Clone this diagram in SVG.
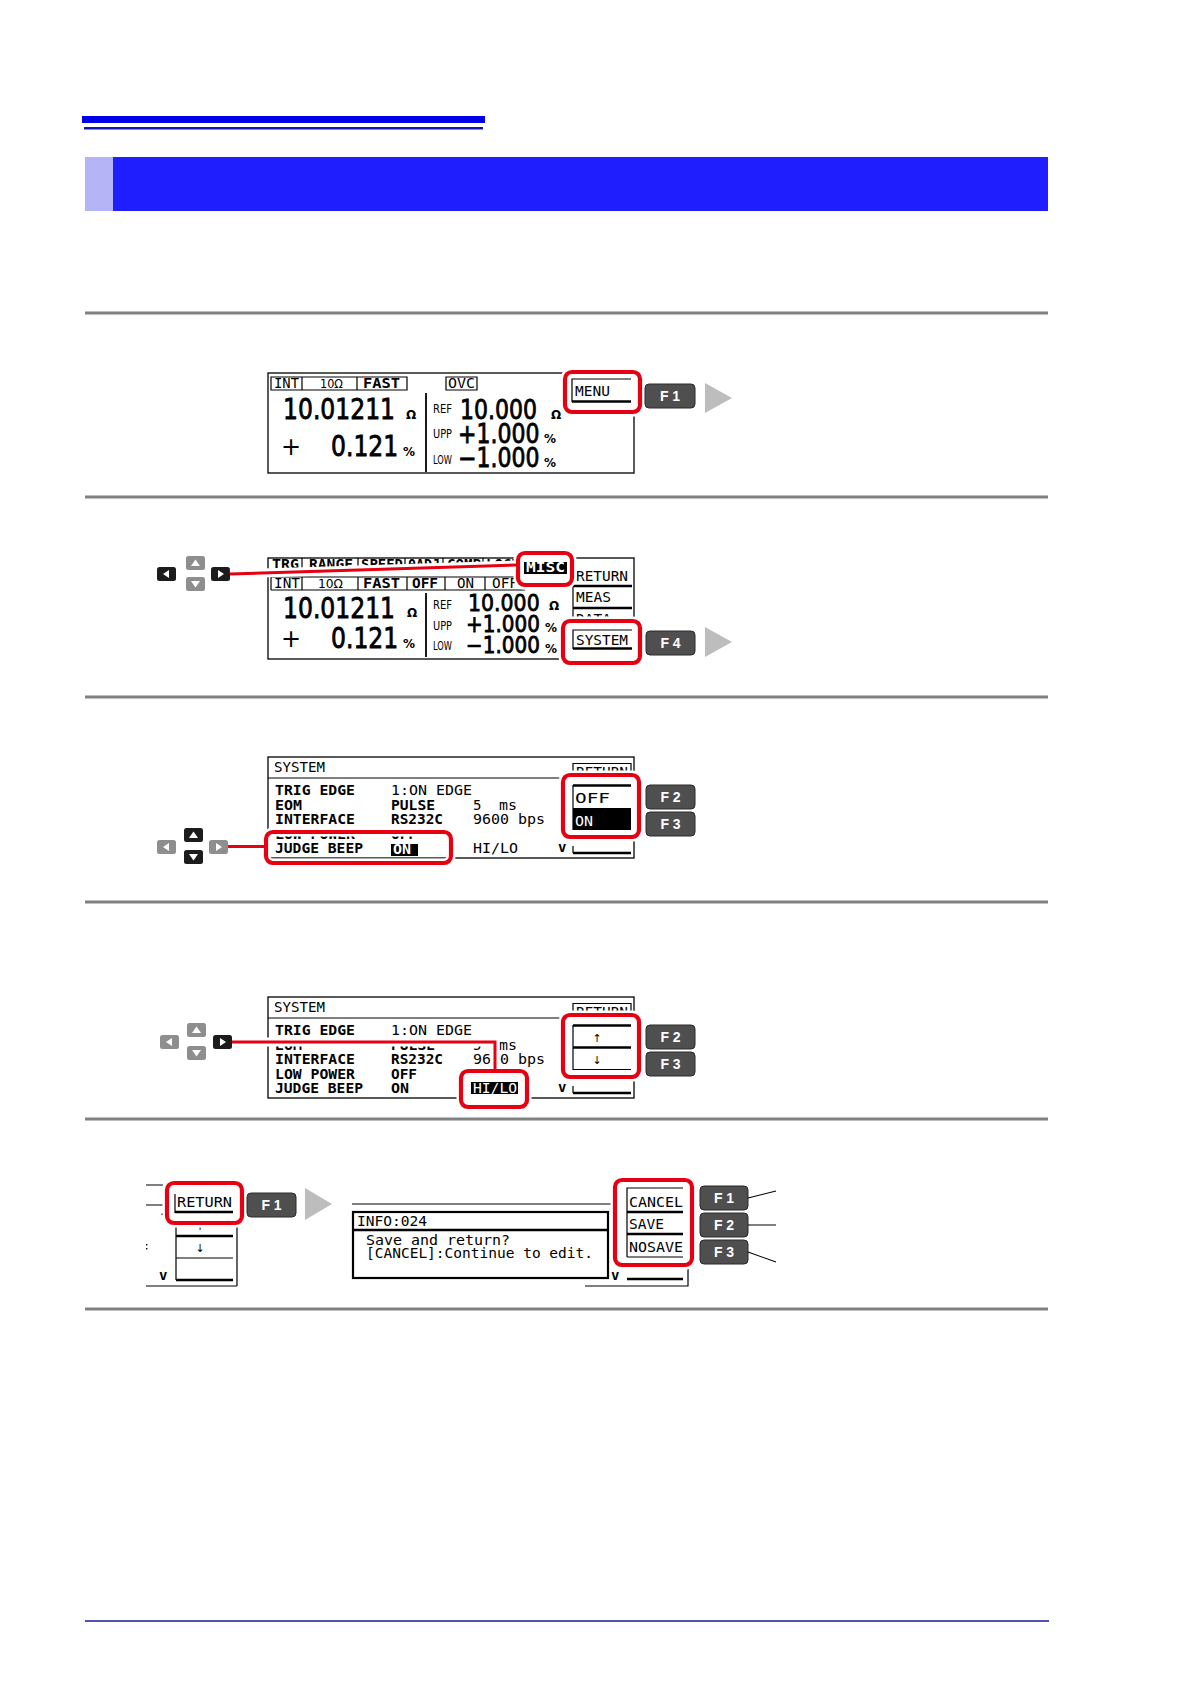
<svg xmlns="http://www.w3.org/2000/svg" width="1190" height="1684" viewBox="0 0 1190 1684">
<defs>
<style>
.sep{stroke:#808080;stroke-width:3}
.fr{fill:none;stroke:#000;stroke-width:1.3}
.ln{fill:none;stroke:#000;stroke-width:1.2}
.tk{fill:none;stroke:#000;stroke-width:2.4}
.hlw{fill:#fff;stroke:#fff;stroke-width:9}
.hlo{fill:none;stroke:#fff;stroke-width:9}
.hl{fill:none;stroke:#E60012;stroke-width:4.2}
.rl{fill:none;stroke:#E60012;stroke-width:3}
.rlh{fill:none;stroke:#fff;stroke-width:9}
.lead{fill:none;stroke:#000;stroke-width:1.1}
.fk{fill:#4f4f4f;stroke:#2a2a2a;stroke-width:1}
.fkt{fill:#fff;font-family:"Liberation Sans",Arial,sans-serif;font-weight:bold;font-size:14px;text-anchor:middle}
.kb{fill:#1c1c1c}
.kg{fill:#8e8e8e}
.nav{fill:#bdbdbd}
.m{font-family:"DejaVu Sans Mono","Liberation Mono",monospace;font-size:14px;fill:#000}
.b{font-weight:bold}
.d{font-family:"DejaVu Sans","Liberation Sans",sans-serif;fill:#000}
.big{font-family:"DejaVu Sans","Liberation Sans",sans-serif;fill:#000;stroke:#000;stroke-width:0.7}
.inv{fill:#fff}
</style>
<g id="kL"><rect width="19" height="14" rx="2.5"/><polygon points="6,7 12,3 12,11" fill="#fff"/></g>
<g id="kR"><rect width="19" height="14" rx="2.5"/><polygon points="13,7 7,3 7,11" fill="#fff"/></g>
<g id="kU"><rect width="19" height="14" rx="2.5"/><polygon points="9.5,3.5 14,10 5,10" fill="#fff"/></g>
<g id="kD"><rect width="19" height="14" rx="2.5"/><polygon points="9.5,10.5 14,4 5,4" fill="#fff"/></g>
</defs>
<rect width="1190" height="1684" fill="#fff"/>

<g id="header">
<rect x="82" y="116" width="403" height="7" fill="#0000E8"/>
<rect x="84" y="127" width="399" height="2.5" fill="#1212B8"/>
<rect x="85" y="157" width="963" height="54" fill="#1E1EFF"/>
<rect x="85" y="157" width="28" height="54" fill="#B4B4F6"/>
</g>

<g id="separators">
<line class="sep" x1="85" y1="313" x2="1048" y2="313"/>
<line class="sep" x1="85" y1="497" x2="1048" y2="497"/>
<line class="sep" x1="85" y1="697" x2="1048" y2="697"/>
<line class="sep" x1="85" y1="902" x2="1048" y2="902"/>
<line class="sep" x1="85" y1="1119" x2="1048" y2="1119"/>
<line class="sep" x1="85" y1="1309" x2="1048" y2="1309"/>
<line x1="85" y1="1621" x2="1049" y2="1621" stroke="#1a1a9a" stroke-width="1.6"/>
</g>

<!-- STEP 1 -->
<g id="screen1">
<rect class="fr" x="268" y="373" width="366" height="100"/>
<path class="ln" d="M271,377h136v13h-136z M302,377v13 M357,377v13 M446,377h31v13h-31z"/>
<text class="m" x="274" y="388" font-size="13" textLength="25" lengthAdjust="spacingAndGlyphs">INT</text>
<text class="d" x="320" y="388" font-size="12" textLength="23" lengthAdjust="spacingAndGlyphs">10Ω</text>
<text class="m b" x="363" y="388" font-size="13" textLength="37" lengthAdjust="spacingAndGlyphs">FAST</text>
<text class="m" x="448" y="388" font-size="13" textLength="27" lengthAdjust="spacingAndGlyphs">OVC</text>
<text class="big" x="283" y="419" font-size="23.5" transform="matrix(1,0,0,1.17,0,-71.23)">10.01211</text>
<text class="d b" x="406" y="419" font-size="12">Ω</text>
<text class="d" x="281" y="455" font-size="24">+</text>
<text class="big" x="331" y="456" font-size="23.5" transform="matrix(1,0,0,1.17,0,-77.52)">0.121</text>
<text class="d b" x="403" y="456" font-size="12">%</text>
<line x1="426" y1="393" x2="426" y2="472" stroke="#000" stroke-width="1.8"/>
<text class="d" x="433" y="413" font-size="13" textLength="19" lengthAdjust="spacingAndGlyphs">REF</text>
<text class="d" x="433" y="438" font-size="13" textLength="19" lengthAdjust="spacingAndGlyphs">UPP</text>
<text class="d" x="433" y="464" font-size="13" textLength="19" lengthAdjust="spacingAndGlyphs">LOW</text>
<text class="big" x="460" y="419" font-size="22" transform="matrix(1,0,0,1.17,0,-71.23)">10.000</text>
<text class="d b" x="551" y="419" font-size="12">Ω</text>
<text class="big" x="458" y="443" font-size="22" transform="matrix(1,0,0,1.17,0,-75.31)">+1.000</text>
<text class="d b" x="544" y="443" font-size="12">%</text>
<text class="big" x="458" y="467" font-size="22" transform="matrix(1,0,0,1.17,0,-79.39)">−1.000</text>
<text class="d b" x="544" y="467" font-size="12">%</text>
</g>
<g id="hl-menu">
<rect class="hlw" x="565" y="372" width="75" height="40" rx="7"/>
<rect class="hl" x="565" y="372" width="75" height="40" rx="7"/>
<path class="ln" d="M572,402V379H631"/>
<path class="tk" d="M572,401.5H631"/>
<text class="m" x="575" y="396" textLength="35" lengthAdjust="spacingAndGlyphs">MENU</text>
</g>
<g id="f1-step1"><rect class="fk" x="645" y="384" width="50" height="24" rx="4"/><text class="fkt" x="670" y="401">F 1</text></g>
<polygon id="next1" class="nav" points="705,383 732,398 705,413"/>

<!-- STEP 2 -->
<g id="keys2">
<use href="#kL" x="157" y="567" class="kb"/>
<use href="#kU" x="186" y="556" class="kg"/>
<use href="#kD" x="186" y="577" class="kg"/>
<use href="#kR" x="211" y="567" class="kb"/>
</g>
<g id="screen2">
<rect class="fr" x="268" y="558" width="366" height="101"/>
<path class="ln" d="M302,558v10 M358,558v10 M405,558v10 M443,558v10 M483,558v10"/>
<text class="m b" x="272" y="569" font-size="13" textLength="27" lengthAdjust="spacingAndGlyphs">TRG</text>
<text class="m b" x="309" y="569" font-size="13" textLength="44" lengthAdjust="spacingAndGlyphs">RANGE</text>
<text class="m b" x="361" y="569" font-size="13" textLength="42" lengthAdjust="spacingAndGlyphs">SPEED</text>
<text class="m b" x="408" y="569" font-size="13" textLength="32" lengthAdjust="spacingAndGlyphs">0ADJ</text>
<text class="m b" x="447" y="569" font-size="13" textLength="34" lengthAdjust="spacingAndGlyphs">COMP</text>
<text class="m b" x="486" y="569" font-size="13" textLength="34" lengthAdjust="spacingAndGlyphs">LOCK</text>
<path class="ln" d="M271,577H525 M271,590H525 M271,577v13 M302,577v13 M358,577v13 M407,577v13 M445,577v13 M485,577v13"/>
<text class="m" x="274" y="588" font-size="13" textLength="26" lengthAdjust="spacingAndGlyphs">INT</text>
<text class="d" x="318" y="588" font-size="12" textLength="25" lengthAdjust="spacingAndGlyphs">10Ω</text>
<text class="m b" x="363" y="588" font-size="13" textLength="37" lengthAdjust="spacingAndGlyphs">FAST</text>
<text class="m b" x="412" y="588" font-size="13" textLength="26" lengthAdjust="spacingAndGlyphs">OFF</text>
<text class="m" x="457" y="588" font-size="13" textLength="17" lengthAdjust="spacingAndGlyphs">ON</text>
<text class="m" x="492" y="588" font-size="13" textLength="26" lengthAdjust="spacingAndGlyphs">OFF</text>
<text class="big" x="283" y="618" font-size="23.5" transform="matrix(1,0,0,1.17,0,-105.06)">10.01211</text>
<text class="d b" x="407" y="617" font-size="12">Ω</text>
<text class="d" x="281" y="647" font-size="24">+</text>
<text class="big" x="331" y="648" font-size="23.5" transform="matrix(1,0,0,1.17,0,-110.16)">0.121</text>
<text class="d b" x="403" y="648" font-size="12">%</text>
<line x1="426" y1="593" x2="426" y2="657" stroke="#000" stroke-width="1.8"/>
<text class="d" x="433" y="609" font-size="13" textLength="19" lengthAdjust="spacingAndGlyphs">REF</text>
<text class="d" x="433" y="630" font-size="13" textLength="19" lengthAdjust="spacingAndGlyphs">UPP</text>
<text class="d" x="433" y="650" font-size="13" textLength="19" lengthAdjust="spacingAndGlyphs">LOW</text>
<text class="big" x="468" y="611" font-size="20.5" transform="matrix(1,0,0,1.12,0,-73.32)">10.000</text>
<text class="d b" x="549" y="610" font-size="12">Ω</text>
<text class="big" x="466" y="632" font-size="20" transform="matrix(1,0,0,1.12,0,-75.84)">+1.000</text>
<text class="d b" x="545" y="632" font-size="12">%</text>
<text class="big" x="466" y="653" font-size="20" transform="matrix(1,0,0,1.12,0,-78.36)">−1.000</text>
<text class="d b" x="545" y="653" font-size="12">%</text>
<path class="ln" d="M573,568V632"/>
<text class="m" x="576" y="581" textLength="52" lengthAdjust="spacingAndGlyphs">RETURN</text>
<path class="tk" d="M573,586H632"/>
<text class="m" x="576" y="602" textLength="35" lengthAdjust="spacingAndGlyphs">MEAS</text>
<path class="tk" d="M573,608H632"/>
<text class="m" x="576" y="624" textLength="35" lengthAdjust="spacingAndGlyphs">DATA</text>
</g>
<g id="hl-misc">
<rect class="hlw" x="518" y="553" width="54" height="32" rx="7"/>
<rect class="hl" x="518" y="553" width="54" height="32" rx="7"/>
<rect x="524" y="562" width="43" height="12" fill="#000"/>
<text class="m b inv" x="526" y="572" font-size="13" textLength="39" lengthAdjust="spacingAndGlyphs">MISC</text>
</g>
<g id="hl-system">
<rect class="hlw" x="563" y="621" width="77" height="42" rx="7"/>
<rect class="hl" x="563" y="621" width="77" height="42" rx="7"/>
<path class="ln" d="M573,649V630H632"/>
<path class="tk" d="M573,648.5H632"/>
<text class="m" x="576" y="645" textLength="52" lengthAdjust="spacingAndGlyphs">SYSTEM</text>
</g>
<g id="f4-step2"><rect class="fk" x="646" y="631" width="49" height="24" rx="4"/><text class="fkt" x="670.5" y="648">F 4</text></g>
<polygon id="next2" class="nav" points="705,627 732,642 705,657"/>

<!-- STEP 3 -->
<g id="keys3">
<use href="#kL" x="157" y="840" class="kg"/>
<use href="#kU" x="184" y="828" class="kb"/>
<use href="#kD" x="184" y="850" class="kb"/>
<use href="#kR" x="209" y="840" class="kg"/>
</g>
<g id="screen3">
<rect class="fr" x="268" y="757" width="366" height="101"/>
<text class="m" x="274" y="772" textLength="51" lengthAdjust="spacingAndGlyphs">SYSTEM</text>
<path class="ln" d="M268,778H562"/>
<path class="ln" d="M573,771V763.5H631V771"/>
<text class="m" x="576" y="777" textLength="52" lengthAdjust="spacingAndGlyphs">RETURN</text>
<text class="m b" x="275" y="795" textLength="80" lengthAdjust="spacingAndGlyphs">TRIG EDGE</text>
<text class="m" x="391" y="795" textLength="81" lengthAdjust="spacingAndGlyphs">1:ON EDGE</text>
<text class="m b" x="275" y="809.5" textLength="27" lengthAdjust="spacingAndGlyphs">EOM</text>
<text class="m b" x="391" y="809.5" textLength="44" lengthAdjust="spacingAndGlyphs">PULSE</text>
<text class="m" x="473" y="809.5">5</text>
<text class="m" x="499" y="809.5" textLength="18" lengthAdjust="spacingAndGlyphs">ms</text>
<text class="m b" x="275" y="824" textLength="80" lengthAdjust="spacingAndGlyphs">INTERFACE</text>
<text class="m b" x="391" y="824" textLength="52" lengthAdjust="spacingAndGlyphs">RS232C</text>
<text class="m" x="473" y="824" textLength="72" lengthAdjust="spacingAndGlyphs">9600 bps</text>
<text class="m b" x="275" y="838.5" textLength="80" lengthAdjust="spacingAndGlyphs">LOW POWER</text>
<text class="m b" x="391" y="838.5" textLength="26" lengthAdjust="spacingAndGlyphs">OFF</text>
<text class="m" x="473" y="853" textLength="45" lengthAdjust="spacingAndGlyphs">HI/LO</text>
<text class="m b" x="558" y="852" font-size="9">v</text>
<path class="ln" d="M573,846V853"/>
<path class="tk" d="M573,853H631"/>
</g>
<g id="hl-judge">
<rect class="hlo" x="266" y="832" width="185" height="31" rx="7"/>
<rect class="hl" x="266" y="832" width="185" height="31" rx="7"/>
<text class="m b" x="275" y="853" textLength="88" lengthAdjust="spacingAndGlyphs">JUDGE BEEP</text>
<rect x="391" y="844" width="27" height="12" fill="#000"/>
<text class="m b inv" x="393" y="854" textLength="18" lengthAdjust="spacingAndGlyphs">ON</text>
</g>
<g id="hl-offon">
<rect class="hlw" x="563" y="775" width="76" height="62" rx="7"/>
<rect class="hl" x="563" y="775" width="76" height="62" rx="7"/>
<path class="ln" d="M573,785V830"/>
<path class="tk" d="M573,785.5H631"/>
<text class="m" x="575" y="803" textLength="35" lengthAdjust="spacingAndGlyphs">OFF</text>
<rect x="573" y="808" width="58" height="22" fill="#000"/>
<text class="m inv" x="575" y="826" textLength="18" lengthAdjust="spacingAndGlyphs">ON</text>
</g>
<g id="f2-step3"><rect class="fk" x="646" y="785" width="49" height="24" rx="4"/><text class="fkt" x="670.5" y="802">F 2</text></g>
<g id="f3-step3"><rect class="fk" x="646" y="812" width="49" height="24" rx="4"/><text class="fkt" x="670.5" y="829">F 3</text></g>

<!-- STEP 4 -->
<g id="keys4">
<use href="#kL" x="160" y="1035" class="kg"/>
<use href="#kU" x="187" y="1023" class="kg"/>
<use href="#kD" x="187" y="1046" class="kg"/>
<use href="#kR" x="213" y="1035" class="kb"/>
</g>
<g id="screen4">
<rect class="fr" x="268" y="997" width="366" height="101"/>
<text class="m" x="274" y="1012" textLength="51" lengthAdjust="spacingAndGlyphs">SYSTEM</text>
<path class="ln" d="M268,1018H562"/>
<path class="ln" d="M573,1011V1003.5H631V1011"/>
<text class="m" x="576" y="1017" textLength="52" lengthAdjust="spacingAndGlyphs">RETURN</text>
<text class="m b" x="275" y="1035" textLength="80" lengthAdjust="spacingAndGlyphs">TRIG EDGE</text>
<text class="m" x="391" y="1035" textLength="81" lengthAdjust="spacingAndGlyphs">1:ON EDGE</text>
<text class="m b" x="275" y="1049.5" textLength="27" lengthAdjust="spacingAndGlyphs">EOM</text>
<text class="m b" x="391" y="1049.5" textLength="44" lengthAdjust="spacingAndGlyphs">PULSE</text>
<text class="m" x="473" y="1049.5">5</text>
<text class="m" x="499" y="1049.5" textLength="18" lengthAdjust="spacingAndGlyphs">ms</text>
<text class="m b" x="275" y="1064" textLength="80" lengthAdjust="spacingAndGlyphs">INTERFACE</text>
<text class="m b" x="391" y="1064" textLength="52" lengthAdjust="spacingAndGlyphs">RS232C</text>
<text class="m" x="473" y="1064" textLength="72" lengthAdjust="spacingAndGlyphs">9600 bps</text>
<text class="m b" x="275" y="1078.5" textLength="80" lengthAdjust="spacingAndGlyphs">LOW POWER</text>
<text class="m b" x="391" y="1078.5" textLength="26" lengthAdjust="spacingAndGlyphs">OFF</text>
<text class="m b" x="275" y="1093" textLength="88" lengthAdjust="spacingAndGlyphs">JUDGE BEEP</text>
<text class="m b" x="391" y="1093" textLength="18" lengthAdjust="spacingAndGlyphs">ON</text>
<text class="m b" x="558" y="1092" font-size="9">v</text>
<path class="ln" d="M573,1086V1093"/>
<path class="tk" d="M573,1093H631"/>
</g>
<g id="hl-hilo">
<rect class="hlw" x="461" y="1071" width="66" height="36" rx="7"/>
<rect class="hl" x="461" y="1071" width="66" height="36" rx="7"/>
<rect x="471" y="1082" width="47" height="12" fill="#000"/>
<text class="m inv" x="473" y="1093" textLength="44" lengthAdjust="spacingAndGlyphs">HI/LO</text>
</g>
<g id="hl-updown">
<rect class="hlw" x="563" y="1015" width="76" height="62" rx="7"/>
<rect class="hl" x="563" y="1015" width="76" height="62" rx="7"/>
<path class="ln" d="M573,1025V1070"/>
<path class="tk" d="M573,1025.5H631 M573,1047.5H631"/>
<path class="ln" d="M573,1069.5H631"/>
<text class="d" x="597" y="1042" font-size="11" text-anchor="middle">↑</text>
<text class="d" x="597" y="1064" font-size="11" text-anchor="middle">↓</text>
</g>
<g id="f2-step4"><rect class="fk" x="646" y="1025" width="49" height="24" rx="4"/><text class="fkt" x="670.5" y="1042">F 2</text></g>
<g id="f3-step4"><rect class="fk" x="646" y="1052" width="49" height="24" rx="4"/><text class="fkt" x="670.5" y="1069">F 3</text></g>

<!-- STEP 5 -->
<g id="screen5-left">
<path class="ln" d="M146,1185H163 M146,1205H163"/>
<rect x="161.5" y="1213.5" width="1.6" height="1.6" fill="#000"/>
<rect x="146" y="1244" width="1.4" height="1.4" fill="#000"/>
<rect x="146" y="1248" width="1.4" height="1.4" fill="#000"/>
<text class="d" x="200" y="1230" font-size="11" text-anchor="middle">↑</text>
<path class="ln" d="M176,1223V1280 M237,1223V1286 M146,1286H237 M176,1258H233"/>
<path class="tk" d="M176,1236H233 M176,1280H233"/>
<text class="d" x="200" y="1252" font-size="11" text-anchor="middle">↓</text>
<text class="m b" x="159" y="1280" font-size="9">v</text>
</g>
<g id="hl-return">
<rect class="hlw" x="167" y="1183" width="75" height="40" rx="7"/>
<rect class="hl" x="167" y="1183" width="75" height="40" rx="7"/>
<path class="ln" d="M175,1194V1213"/>
<path class="tk" d="M175,1212H233"/>
<text class="m" x="177" y="1207" textLength="55" lengthAdjust="spacingAndGlyphs">RETURN</text>
</g>
<g id="f1-step5a"><rect class="fk" x="247" y="1193" width="49" height="24" rx="4"/><text class="fkt" x="271.5" y="1210">F 1</text></g>
<polygon id="next5" class="nav" points="305,1188 332,1204 305,1220"/>
<g id="screen5-right">
<path class="ln" d="M352,1204H612"/>
<rect x="353" y="1212" width="255" height="66" fill="#fff" stroke="#000" stroke-width="2.2"/>
<path class="tk" d="M353,1230H608"/>
<text class="m" x="357" y="1226" font-size="13" textLength="70" lengthAdjust="spacingAndGlyphs">INFO:024</text>
<text class="m" x="366" y="1244.5" font-size="13" textLength="144" lengthAdjust="spacingAndGlyphs">Save and return?</text>
<text class="m" x="366" y="1258" font-size="13" textLength="227" lengthAdjust="spacingAndGlyphs">[CANCEL]:Continue to edit.</text>
<text class="m b" x="611" y="1280" font-size="9">v</text>
<path class="tk" d="M627,1279H683"/>
<path class="ln" d="M688,1267V1286H585"/>
</g>
<g id="hl-cancel">
<rect class="hlw" x="615" y="1180" width="77" height="85" rx="7"/>
<rect class="hl" x="615" y="1180" width="77" height="85" rx="7"/>
<path class="ln" d="M627,1257V1188H683 M627,1257H683"/>
<path class="tk" d="M627,1212H683 M627,1234H683"/>
<text class="m" x="629" y="1207" textLength="54" lengthAdjust="spacingAndGlyphs">CANCEL</text>
<text class="m" x="629" y="1229" textLength="35" lengthAdjust="spacingAndGlyphs">SAVE</text>
<text class="m" x="629" y="1252" textLength="54" lengthAdjust="spacingAndGlyphs">NOSAVE</text>
</g>
<g id="f1-step5b"><rect class="fk" x="700" y="1186" width="48" height="24" rx="4"/><text class="fkt" x="724" y="1203">F 1</text></g>
<g id="f2-step5"><rect class="fk" x="700" y="1213" width="48" height="24" rx="4"/><text class="fkt" x="724" y="1230">F 2</text></g>
<g id="f3-step5"><rect class="fk" x="700" y="1240" width="48" height="24" rx="4"/><text class="fkt" x="724" y="1257">F 3</text></g>

<g id="connectors">
<path class="rlh" d="M230,574L516,565"/>
<path class="rl" d="M230,574L516,565"/>
<path class="rlh" d="M228,846.5H264"/>
<path class="rl" d="M228,846.5H264"/>
<path class="rlh" d="M232,1042H495V1069"/>
<path class="rl" d="M232,1042H495V1069"/>
<path class="lead" d="M748,1198L776,1191 M748,1225H776 M748,1252L776,1262"/>
</g>
</svg>
